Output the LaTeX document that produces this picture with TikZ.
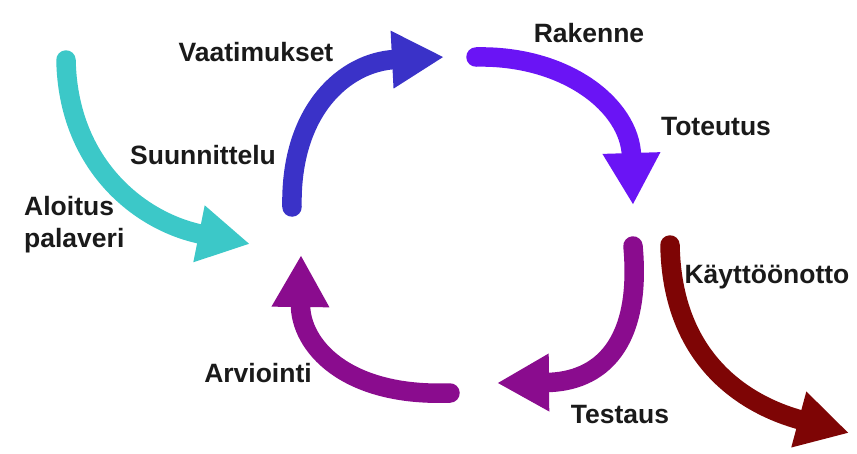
\documentclass[tikz,border=0pt]{standalone}
\usepackage{fontspec}
\setmainfont{Liberation Sans}
\usetikzlibrary{arrows.meta}
\definecolor{cyanA}{HTML}{3CC8C8}
\definecolor{blueA}{HTML}{3A32C8}
\definecolor{violetA}{HTML}{6A14F5}
\definecolor{purpleA}{HTML}{8A0C8E}
\definecolor{redA}{HTML}{7E0505}
\definecolor{inkA}{HTML}{1A1A1A}
\tikzset{
  phase/.style={font=\fontsize{26.5}{32}\selectfont\bfseries, text=inkA, inner sep=0pt},
  flow/.style={line width=19.5pt, line cap=round,
    -{Triangle[length=52pt,width=54pt]}},
}
\begin{document}
\begin{tikzpicture}[x=1pt,y=-1pt]
\useasboundingbox[fill=white] (0,0) rectangle (857,453);

% labels
\node[phase] (vaat) at (256,52) {Vaatimukset};
\node[phase] (suun) at (203,155) {Suunnittelu};
\node[phase, align=left, anchor=west] (aloi) at (24,225) {Aloitus\\palaveri};
\node[phase] (rake) at (589,33) {Rakenne};
\node[phase] (tote) at (716,127) {Toteutus};
\node[phase] (kayt) at (767,277) {Käyttöönotto};
\node[phase] (arvi) at (258,373) {Arviointi};
\node[phase] (test) at (620,415) {Testaus};

% arrow ends
\coordinate (c0) at (66,60);   \coordinate (c1) at (250,244);
\coordinate (b0) at (292,207); \coordinate (b1) at (444,57);
\coordinate (v0) at (476,57);  \coordinate (v1) at (633,205);
\coordinate (p0) at (633,246); \coordinate (p1) at (497,383);
\coordinate (q0) at (450,393); \coordinate (q1) at (301,255);
\coordinate (r0) at (670,245); \coordinate (r1) at (849,433);

% arrows
\draw[flow, cyanA]   (c0) .. controls (68,165) and (140,222) .. (c1);
\draw[flow, blueA]   (b0) .. controls (290,110) and (345,62) .. (b1);
\draw[flow, violetA] (v0) .. controls (565,55) and (630,105) .. (v1);
\draw[flow, purpleA] (p0) .. controls (642,345) and (600,382) .. (p1);
\draw[flow, purpleA] (q0) .. controls (345,397) and (300,345) .. (q1);
\draw[flow, redA]    (r0) .. controls (672,360) and (745,405) .. (r1);
\end{tikzpicture}
\end{document}
